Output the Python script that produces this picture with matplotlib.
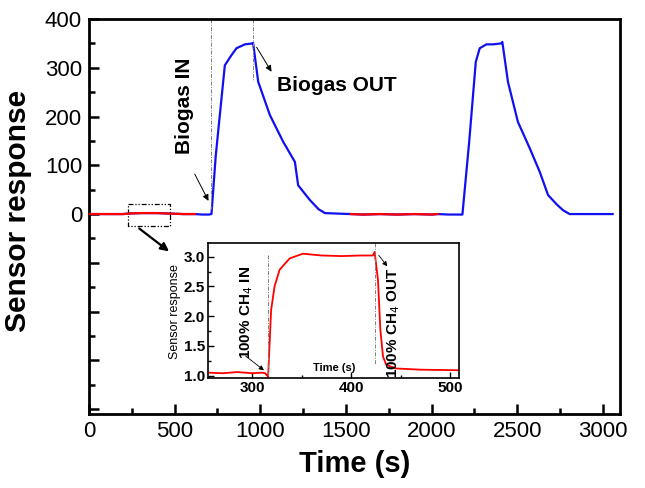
import numpy as np
import matplotlib
matplotlib.use('Agg')
import matplotlib.pyplot as plt
from matplotlib.ticker import MultipleLocator, FuncFormatter

plt.rcParams['font.family'] = ['Liberation Sans', 'DejaVu Sans']

# main trace (time in s, response)
time = [0, 100, 200, 230, 300, 400, 470, 550, 618,
        660, 700, 715, 740, 793, 830, 861, 910, 955, 958,
        988, 1056, 1134, 1202, 1221, 1289, 1340, 1377, 1450, 1529,
        1600, 1700, 1800, 1900, 2000, 2036,
        2100, 2180, 2220, 2258, 2281, 2320, 2360, 2407, 2413,
        2446, 2504, 2573, 2631, 2680, 2730, 2767, 2806, 2900, 3057]
resp = [0, 0, 0, 1, 2, 2, 1, 0, 0,
        -1, -1, 0, 120, 305, 325, 340, 348, 350, 351,
        271, 203, 148, 107, 59, 29, 10, 2, 1, 0,
        -1, 0, -1, 0, -1, 0,
        -1, -1, 150, 312, 340, 348, 348, 350, 353,
        271, 189, 135, 87, 39, 20, 8, 0, 0, 0]
# colour changes of the trace
red_spans = [(0, 618), (1529, 2036)]

# inset trace: 100% CH4
t_in = [255, 270, 285, 300, 310, 313, 316, 319, 322.5, 327.6, 337.7, 351,
        370, 390, 410, 421.8, 423.5, 426.9, 429.3, 432, 435.3, 445.5, 470, 510]
r_in = [1.05, 1.04, 1.06, 1.04, 1.05, 1.04, 0.98, 2.10, 2.50, 2.78, 2.97, 3.05,
        3.02, 3.01, 3.02, 3.02, 3.08, 2.61, 1.77, 1.32, 1.18, 1.12, 1.10, 1.09]

fig = plt.figure(figsize=(6.45, 4.88), dpi=100)
ax = fig.add_axes([89/645, 1-414/488, (620-89)/645, (414-19)/488])

t = np.array(time, float)
r = np.array(resp, float)
ax.plot(t, r, color='#1010f0', lw=1.6, zorder=2)
for a, b in red_spans:
    m = (t >= a) & (t <= b)
    ax.plot(t[m], r[m], color='#ff0000', lw=1.6, zorder=3)

ax.set_xlim(0, 3100)
ax.set_ylim(-410, 400)
ax.xaxis.set_major_locator(MultipleLocator(500))
ax.xaxis.set_minor_locator(MultipleLocator(250))
ax.yaxis.set_major_locator(MultipleLocator(100))
ax.yaxis.set_minor_locator(MultipleLocator(50))
ax.yaxis.set_major_formatter(FuncFormatter(lambda v, p: '%d' % v if v >= 0 else ''))
ax.tick_params(which='both', direction='in', width=1.8, labelsize=16)
ax.tick_params(which='major', length=7, pad=5)
ax.tick_params(which='minor', length=4)
for s in ax.spines.values():
    s.set_linewidth(2)
ax.set_xlabel('Time (s)', fontsize=21, fontweight='bold')
ax.set_ylabel('Sensor response', fontsize=21.5, fontweight='bold', va='center')
ax.xaxis.set_label_coords(0.5, -0.092)
ax.yaxis.set_label_coords(-0.134, 0.513)

# gas in / out markers
ax.plot([710, 710], [400, 10], color='gray', lw=0.7, ls=(0, (4, 1.5, 1, 1.5)))
ax.plot([955, 955], [400, 275], color='gray', lw=0.7, ls=(0, (4, 1.5, 1, 1.5)))
ax.text(560, 222, 'Biogas IN', rotation=90, fontsize=15, fontweight='bold',
        ha='center', va='center')
ax.text(1100, 264, 'Biogas OUT', fontsize=15, fontweight='bold',
        ha='left', va='center')
ax.annotate('', xy=(705, 22), xytext=(610, 87),
            arrowprops=dict(arrowstyle='-|>', color='black', lw=0.7,
                            mutation_scale=9))
ax.annotate('', xy=(1074, 287), xytext=(970, 347),
            arrowprops=dict(arrowstyle='-|>', color='black', lw=0.7,
                            mutation_scale=9))

# zoom box and pointer
ax.plot([228, 473, 473, 228, 228], [20.5, 20.5, -24.6, -24.6, 20.5],
        color='black', lw=0.9, ls=(0, (4, 1.5, 1, 1.5, 1, 1.5)))
ax.annotate('', xy=(480, -80), xytext=(280, -26),
            arrowprops=dict(arrowstyle='-|>', color='black', lw=1.6,
                            mutation_scale=12))

# inset
ins = fig.add_axes([207.7/645, 1-378.3/488, (459.3-207.7)/645, (378.3-242.7)/488])
ins.plot(t_in, r_in, color='#ff0000', lw=1.3)
ins.set_xlim(255, 509)
ins.set_ylim(0.955, 3.235)
ins.xaxis.set_major_locator(MultipleLocator(100))
ins.xaxis.set_minor_locator(MultipleLocator(50))
ins.yaxis.set_major_locator(MultipleLocator(0.5))
ins.yaxis.set_minor_locator(MultipleLocator(0.25))
ins.yaxis.set_major_formatter(FuncFormatter(lambda v, p: '%.1f' % v))
ins.tick_params(which='both', direction='in', width=1, labelsize=11, pad=2)
ins.tick_params(which='major', length=4)
ins.tick_params(which='minor', length=2)
for lab in ins.get_xticklabels() + ins.get_yticklabels():
    lab.set_fontweight('bold')
for s in ins.spines.values():
    s.set_linewidth(1.2)
ins.text(383, 1.13, 'Time (s)', fontsize=8, fontweight='bold', ha='center', va='center')
fig.text(175/645, 1-312/488, 'Sensor response', rotation=90, fontsize=9,
         ha='center', va='center')

ins.plot([316, 316], [3.03, 0.98], color='gray', lw=0.7, ls=(0, (4, 1.5, 1, 1.5)))
ins.plot([423.5, 423.5], [3.235, 1.2], color='gray', lw=0.7, ls=(0, (4, 1.5, 1, 1.5)))
ins.text(294, 2.07, '100% CH$_4$ IN', rotation=90, fontsize=11, fontweight='bold',
         ha='center', va='center')
ins.text(443, 1.89, '100% CH$_4$ OUT', rotation=90, fontsize=11, fontweight='bold',
         ha='center', va='center')
ins.annotate('', xy=(314, 1.06), xytext=(291, 1.36),
             arrowprops=dict(arrowstyle='-|>', color='black', lw=0.6,
                             mutation_scale=7))
ins.annotate('', xy=(438, 2.8), xytext=(426, 3.06),
             arrowprops=dict(arrowstyle='-|>', color='black', lw=0.6,
                             mutation_scale=7))

fig.savefig('out.png', dpi=100)
